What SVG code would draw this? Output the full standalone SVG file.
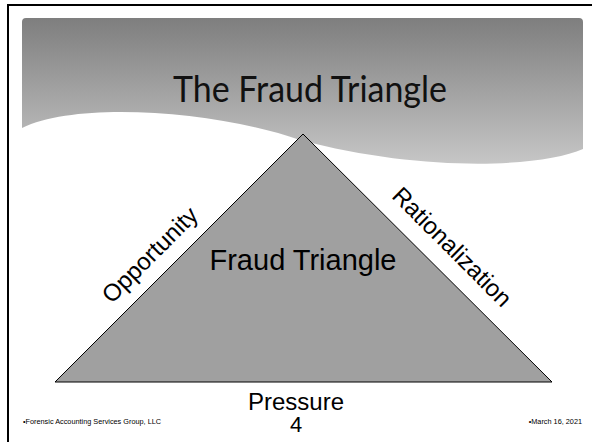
<svg xmlns="http://www.w3.org/2000/svg" width="592" height="442" viewBox="0 0 592 442">
  <defs>
    <linearGradient id="hdr" x1="0" y1="0" x2="0" y2="1">
      <stop offset="0" stop-color="#7e7e7e"/>
      <stop offset="1" stop-color="#c6c6c6"/>
    </linearGradient>
    <style>
      .lbl { font-family: "Liberation Sans", Arial, sans-serif; fill: #000; }
      .foot { font-family: "Liberation Sans", Arial, sans-serif; font-size: 7.3px; fill: #000; }
    </style>
  </defs>
  <rect x="0" y="0" width="592" height="442" fill="#fff"/>
  <g id="frame" stroke="#000" stroke-width="2" fill="none">
    <line x1="7" y1="5" x2="592" y2="5"/>
    <line x1="8" y1="4" x2="8" y2="442"/>
  </g>
  <g id="header">
    <path d="M22,22 Q22,18 26,18 H579 Q583,18 583,22 V149 C540,168 420,172 300,140 C220,112 80,100 22,128 Z" fill="url(#hdr)"/>
    <text x="310" y="102" text-anchor="middle" font-family="Lato, 'Open Sans', sans-serif" font-size="36" fill="#111" textLength="274" lengthAdjust="spacingAndGlyphs">The Fraud Triangle</text>
  </g>
  <g id="triangle">
    <polygon points="303,134 552,382 55,382" fill="#a0a0a0" stroke="#000" stroke-width="1"/>
    <text class="lbl" x="303" y="270" text-anchor="middle" font-size="29">Fraud Triangle</text>
  </g>
  <g id="opportunity">
    <text class="lbl" font-size="24" text-anchor="middle" transform="translate(150,255) rotate(-45)" y="8">Opportunity</text>
  </g>
  <g id="rationalization">
    <text class="lbl" font-size="24" text-anchor="middle" transform="translate(452,247) rotate(45)" y="8">Rationalization</text>
  </g>
  <g id="pressure">
    <text class="lbl" x="296" y="410" text-anchor="middle" font-size="24">Pressure</text>
  </g>
  <g id="footer">
    <text class="lbl" x="296" y="432" text-anchor="middle" font-size="22">4</text>
    <text class="foot" x="23" y="424">•Forensic Accounting Services Group, LLC</text>
    <text class="foot" x="582" y="424" text-anchor="end">•March 16, 2021</text>
  </g>
</svg>
